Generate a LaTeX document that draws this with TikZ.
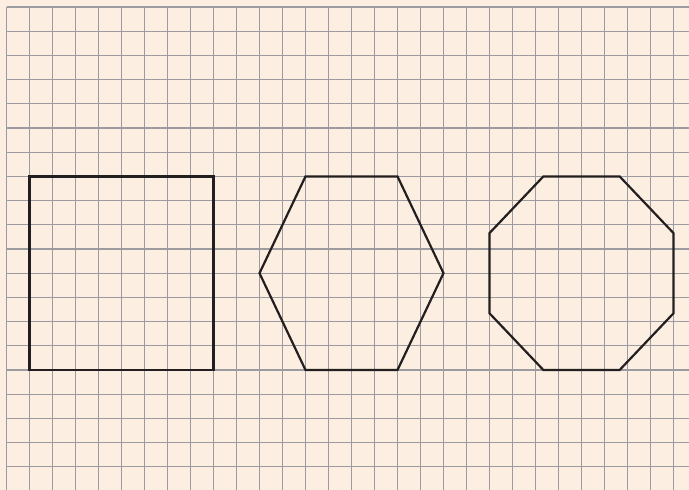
\documentclass[tikz,border=0pt]{standalone}
\definecolor{paper}{RGB}{252,238,224}
\definecolor{gridc}{RGB}{155,155,160}
\definecolor{ink}{RGB}{35,31,32}
\begin{document}
\begin{tikzpicture}[x=23pt,y=-24.2pt,
  gridline/.style={gridc,line width=1.3pt},
  polyline/.style={ink,line width=2.2pt,line join=miter}]
\useasboundingbox (0pt,0pt) rectangle (689pt,-490pt);
\fill[paper] (0pt,0pt) rectangle (689pt,-490pt);
\clip (0pt,0pt) rectangle (689pt,-490pt);
\begin{scope}[shift={(6.5pt,-7pt)}]
  \foreach \i in {0,...,29} \draw[gridline] (\i,0) -- (\i,20.5);
  \foreach \j in {0,...,19} \draw[gridline] (0,\j) -- (30.5,\j);
  % square
  \draw[polyline] (1,7) rectangle (9,15);
  % hexagon
  \draw[polyline] (11,11) -- (13,7) -- (17,7) -- (19,11) -- (17,15) -- (13,15) -- cycle;
  % octagon
  \draw[polyline] (23.343,7) -- (26.657,7) -- (29,9.343) -- (29,12.657) -- (26.657,15) -- (23.343,15) -- (21,12.657) -- (21,9.343) -- cycle;
\end{scope}
\end{tikzpicture}
\end{document}
